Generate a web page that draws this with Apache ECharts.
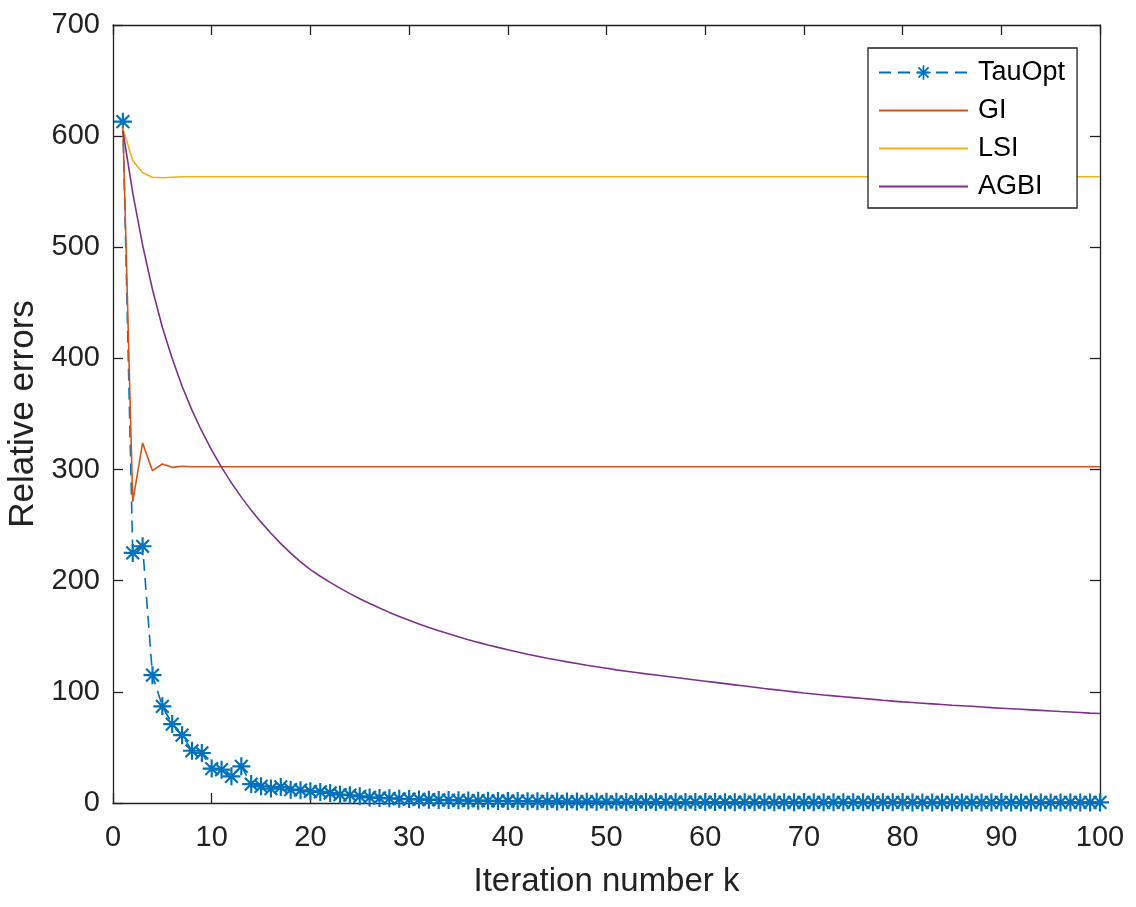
<!DOCTYPE html>
<html>
<head>
<meta charset="utf-8">
<style>
  html, body { margin: 0; padding: 0; background: #ffffff; }
  #chart { width: 1136px; height: 907px; }
</style>
<script src="https://cdn.jsdelivr.net/npm/echarts@6/dist/echarts.min.js"></script>
</head>
<body>
<div id="chart"></div>
<script>
// Iteration numbers k
const iterations = Array.from({length: 100}, (_, i) => i + 1);

const xTicks = [0, 10, 20, 30, 40, 50, 60, 70, 80, 90, 100];
const yTicks = [0, 100, 200, 300, 400, 500, 600, 700];

const tauOpt = [
  613, 225, 231, 115, 87, 71, 61, 47, 45, 31,
  30, 24, 33, 17, 15, 13, 14.5, 12, 11.5, 10.5,
  10, 9, 7.5, 7, 6, 5, 4.5, 4.2, 3.8, 3.5,
  3.2, 3, 2.8, 2.6, 2.4, 2.2, 2.1, 2, 1.9, 1.8,
  1.7, 1.6, 1.5, 1.5, 1.4, 1.3, 1.3, 1.2, 1.2, 1.1,
  1.1, 1, 1, 1, 0.9, 0.9, 0.9, 0.8, 0.8, 0.8,
  0.8, 0.7, 0.7, 0.7, 0.7, 0.7, 0.6, 0.6, 0.6, 0.6,
  0.6, 0.6, 0.6, 0.6, 0.6, 0.6, 0.6, 0.6, 0.6, 0.6,
  0.5, 0.5, 0.5, 0.5, 0.5, 0.5, 0.5, 0.5, 0.5, 0.5,
  0.5, 0.5, 0.5, 0.5, 0.5, 0.5, 0.5, 0.5, 0.5, 0.5
];

const gi = [
  610, 271, 324, 299, 305, 302, 303, 302.6, 302.6, 302.6,
  302.6, 302.6, 302.6, 302.6, 302.6, 302.6, 302.6, 302.6, 302.6, 302.6,
  302.6, 302.6, 302.6, 302.6, 302.6, 302.6, 302.6, 302.6, 302.6, 302.6,
  302.6, 302.6, 302.6, 302.6, 302.6, 302.6, 302.6, 302.6, 302.6, 302.6,
  302.6, 302.6, 302.6, 302.6, 302.6, 302.6, 302.6, 302.6, 302.6, 302.6,
  302.6, 302.6, 302.6, 302.6, 302.6, 302.6, 302.6, 302.6, 302.6, 302.6,
  302.6, 302.6, 302.6, 302.6, 302.6, 302.6, 302.6, 302.6, 302.6, 302.6,
  302.6, 302.6, 302.6, 302.6, 302.6, 302.6, 302.6, 302.6, 302.6, 302.6,
  302.6, 302.6, 302.6, 302.6, 302.6, 302.6, 302.6, 302.6, 302.6, 302.6,
  302.6, 302.6, 302.6, 302.6, 302.6, 302.6, 302.6, 302.6, 302.6, 302.6
];

const lsi = [
  607, 578, 567, 563, 562.5, 563, 563.5, 563.5, 563.5, 563.5,
  563.5, 563.5, 563.5, 563.5, 563.5, 563.5, 563.5, 563.5, 563.5, 563.5,
  563.5, 563.5, 563.5, 563.5, 563.5, 563.5, 563.5, 563.5, 563.5, 563.5,
  563.5, 563.5, 563.5, 563.5, 563.5, 563.5, 563.5, 563.5, 563.5, 563.5,
  563.5, 563.5, 563.5, 563.5, 563.5, 563.5, 563.5, 563.5, 563.5, 563.5,
  563.5, 563.5, 563.5, 563.5, 563.5, 563.5, 563.5, 563.5, 563.5, 563.5,
  563.5, 563.5, 563.5, 563.5, 563.5, 563.5, 563.5, 563.5, 563.5, 563.5,
  563.5, 563.5, 563.5, 563.5, 563.5, 563.5, 563.5, 563.5, 563.5, 563.5,
  563.5, 563.5, 563.5, 563.5, 563.5, 563.5, 563.5, 563.5, 563.5, 563.5,
  563.5, 563.5, 563.5, 563.5, 563.5, 563.5, 563.5, 563.5, 563.5, 563.5
];

const agbi = [
  605, 549, 502, 462, 428, 400, 375, 353.5, 334.5, 317.5,
  302, 288, 275.2, 263.5, 252.7, 242.7, 233.4, 224.8, 216.9, 210,
  204, 198.5, 193.3, 188.4, 183.8, 179.5, 175.4, 171.5, 167.9, 164.4,
  161.1, 158, 155, 152.2, 149.5, 146.9, 144.5, 142.2, 140, 137.9,
  135.9, 133.9, 132.1, 130.3, 128.6, 127, 125.5, 124, 122.6, 121.2,
  119.8, 118.6, 117.4, 116.2, 115.1, 114, 112.9, 111.8, 110.7, 109.6,
  108.5, 107.4, 106.3, 105.2, 104.1, 103, 102, 101, 100, 99,
  98.1, 97.2, 96.4, 95.6, 94.8, 94, 93.2, 92.4, 91.7, 91,
  90.4, 89.8, 89.2, 88.6, 88, 87.5, 87, 86.4, 85.8, 85.3,
  84.8, 84.3, 83.8, 83.3, 82.8, 82.3, 81.9, 81.4, 80.9, 80.5
];

const seriesNames = ['TauOpt', 'GI', 'LSI', 'AGBI'];
const seriesColors = ['#0072BD', '#D95319', '#EDB120', '#7E2F8E'];

const asterisk = 'path://M-10,-1.2 L10,-1.2 L10,1.2 L-10,1.2 Z ' +
  'M-1.2,-10 L1.2,-10 L1.2,10 L-1.2,10 Z ' +
  'M-6.22,-7.92 L7.92,6.22 L6.22,7.92 L-7.92,-6.22 Z ' +
  'M6.22,-7.92 L7.92,-6.22 L-6.22,7.92 L-7.92,6.22 Z';

const pairs = (vals) => iterations.map((k, i) => [k, vals[i]]);

const FONT = '"Liberation Sans", Arial, Helvetica, sans-serif';
const AXIS_COLOR = '#222222';

const chart = echarts.init(document.getElementById('chart'), null, {renderer: 'canvas'});

const baseAxisLine = { show: true, onZero: false, lineStyle: { color: AXIS_COLOR, width: 1.3 } };
const baseTick = { show: true, inside: true, length: 10, lineStyle: { color: AXIS_COLOR, width: 1.3 } };

const hiddenDot = { color: 'rgba(0,0,0,0)', borderWidth: 0 };

chart.setOption({
  animation: false,
  backgroundColor: '#ffffff',
  grid: { left: 113, right: 36, top: 25, bottom: 104, containLabel: false, outerBoundsMode: 'none' },
  legend: {
    data: [
      { name: seriesNames[0] },
      { name: seriesNames[1], itemStyle: hiddenDot },
      { name: seriesNames[2], itemStyle: hiddenDot },
      { name: seriesNames[3], itemStyle: hiddenDot }
    ],
    z: 20,
    left: 868,
    top: 48,
    orient: 'vertical',
    backgroundColor: '#ffffff',
    borderColor: AXIS_COLOR,
    borderWidth: 1.3,
    borderRadius: 0,
    padding: [11, 12, 8, 10],
    itemWidth: 89,
    itemHeight: 18,
    itemGap: 11,
    textStyle: { fontFamily: FONT, fontSize: 27, color: '#000000', lineHeight: 26, padding: [0, 0, 0, 5] }
  },
  xAxis: [
    {
      type: 'value', min: 0, max: 100, interval: 10, position: 'bottom',
      name: 'Iteration number k', nameLocation: 'middle', nameGap: 62,
      nameTextStyle: { fontFamily: FONT, fontSize: 33, color: AXIS_COLOR },
      axisLine: baseAxisLine, axisTick: baseTick,
      axisLabel: { margin: 20, fontFamily: FONT, fontSize: 29, color: AXIS_COLOR,
        formatter: (v) => xTicks.includes(v) ? String(v) : '' },
      splitLine: { show: false }
    },
    {
      type: 'value', min: 0, max: 100, interval: 10, position: 'top',
      axisLine: baseAxisLine, axisTick: baseTick,
      axisLabel: { show: false }, splitLine: { show: false }
    }
  ],
  yAxis: [
    {
      type: 'value', min: 0, max: 700, interval: 100, position: 'left',
      name: 'Relative errors', nameLocation: 'middle', nameGap: 72,
      nameTextStyle: { fontFamily: FONT, fontSize: 35, color: AXIS_COLOR },
      axisLine: baseAxisLine, axisTick: baseTick,
      axisLabel: { margin: 13, fontFamily: FONT, fontSize: 29, color: AXIS_COLOR,
        formatter: (v) => yTicks.includes(v) ? String(v) : '' },
      splitLine: { show: false }
    },
    {
      type: 'value', min: 0, max: 700, interval: 100, position: 'right',
      axisLine: baseAxisLine, axisTick: baseTick,
      axisLabel: { show: false }, splitLine: { show: false }
    }
  ],
  series: [
    {
      name: seriesNames[0], type: 'line', data: pairs(tauOpt),
      xAxisIndex: 0, yAxisIndex: 0,
      symbol: asterisk, symbolSize: 18, showSymbol: true, showAllSymbol: true,
      itemStyle: { color: seriesColors[0] },
      lineStyle: { color: seriesColors[0], width: 1.6, type: [12, 7] },
      z: 2
    },
    {
      name: seriesNames[1], type: 'line', data: pairs(gi),
      symbol: 'none', showSymbol: false,
      itemStyle: { color: seriesColors[1] },
      lineStyle: { color: seriesColors[1], width: 1.6 },
      z: 3
    },
    {
      name: seriesNames[2], type: 'line', data: pairs(lsi),
      symbol: 'none', showSymbol: false,
      itemStyle: { color: seriesColors[2] },
      lineStyle: { color: seriesColors[2], width: 1.6 },
      z: 4
    },
    {
      name: seriesNames[3], type: 'line', data: pairs(agbi),
      symbol: 'none', showSymbol: false,
      itemStyle: { color: seriesColors[3] },
      lineStyle: { color: seriesColors[3], width: 1.6 },
      z: 5
    }
  ]
});
</script>
</body>
</html>
